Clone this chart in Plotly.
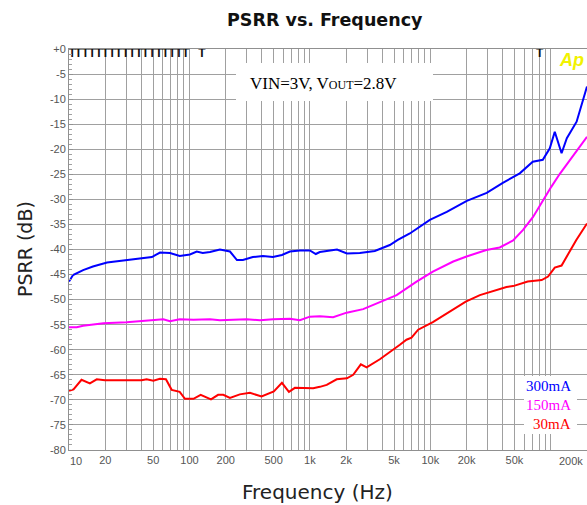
import plotly.graph_objects as go

# ---------------- data ----------------
blue_f = [10, 10.8, 13.1, 15.8, 20.7, 30.3, 41, 48.8, 57, 69, 83, 101, 115, 129, 148, 179, 217, 248, 278,
          336, 407, 493, 586, 683, 826, 1000, 1120, 1210, 1680, 2030, 2600, 3460, 4610, 5370, 6760, 9910,
          13700, 20100, 29400, 40000, 55300, 70900, 85900, 98200, 108000, 123000, 136000, 164000, 200000]
blue_db = [-46.4, -45.1, -44.1, -43.4, -42.6, -42.1, -41.8, -41.5, -40.6, -40.7, -41.3, -41.0, -40.4, -40.7,
           -40.5, -40.0, -40.4, -42.1, -42.1, -41.5, -41.3, -41.5, -41.1, -40.4, -40.2, -40.2, -40.9, -40.5,
           -40.0, -40.8, -40.7, -40.3, -39.1, -38.1, -36.8, -34.1, -32.5, -30.3, -28.7, -26.7, -24.8, -22.5,
           -22.1, -19.8, -16.5, -20.8, -17.8, -14.5, -7.5]

mag_f = [10, 11.6, 13.1, 19.3, 30.1, 50.1, 60.7, 68.9, 83, 108, 148, 179, 298, 385, 496, 683, 826, 1000,
         1210, 1560, 2020, 2770, 3580, 5250, 7690, 10500, 15500, 20000, 29200, 37700, 48700, 58900, 71300,
         86300, 101000, 119000, 200000]
mag_db = [-55.5, -55.5, -55.2, -54.7, -54.5, -54.0, -53.9, -54.3, -53.9, -54.0, -53.9, -54.1, -53.9, -54.1,
          -53.9, -53.8, -54.1, -53.4, -53.3, -53.5, -52.6, -51.9, -50.8, -49.1, -46.4, -44.4, -42.4, -41.4,
          -40.1, -39.6, -38.2, -36.1, -33.5, -30.1, -27.5, -24.9, -17.5]

red_f = [10, 10.9, 12.7, 14.9, 17.0, 19.9, 40.1, 44.1, 50.1, 56.9, 63.8, 71.2, 83, 91.8, 108, 124, 151, 173,
         191, 217, 262, 318, 397, 502, 586, 670, 751, 1065, 1211, 1380, 1670, 2030, 2290, 2650, 2960, 3810,
         5590, 6340, 6980, 7930, 10500, 14000, 19700, 25800, 29200, 35400, 42900, 48700, 64400, 84100, 95000,
         108000, 123000, 163000, 200000]
red_db = [-68.2, -67.9, -66.0, -66.7, -65.9, -66.1, -66.1, -65.9, -66.2, -65.8, -65.9, -68.0, -68.4, -69.8,
          -69.8, -69.0, -69.9, -69.0, -69.0, -69.6, -68.9, -68.6, -69.3, -68.3, -66.6, -68.4, -67.6, -67.7,
          -67.4, -67.0, -65.9, -65.7, -65.0, -62.9, -63.5, -61.9, -59.0, -58.0, -57.6, -56.0, -54.5, -52.6,
          -50.4, -49.1, -48.7, -48.1, -47.5, -47.3, -46.4, -46.1, -45.4, -43.6, -43.2, -38.1, -34.8]

marker_f = [10.6, 12.0, 13.7, 15.6, 17.7, 20.1, 22.8, 25.9, 29.5, 33.5, 38.0, 43.2, 49.1, 55.8, 63.3,
            72.0, 81.8, 92.9, 127, 81100]

series_names = ["300mA", "150mA", "30mA"]
series_colors = ["#0000ff", "#ff00ff", "#ff0000"]

x_tickvals = [20, 50, 100, 200, 500, 1000, 2000, 5000, 10000, 20000, 50000]
x_ticktext = ["20", "50", "100", "200", "500", "1k", "2k", "5k", "10k", "20k", "50k"]
x_minor = [m * 10 ** e for e in range(1, 6) for m in range(1, 10) if m * 10 ** e <= 200000]
y_tickvals = list(range(0, -81, -5))
y_ticktext = ["+0"] + [str(v) for v in y_tickvals[1:]]

# ---------------- figure ----------------
W, H = 587, 505
PX0, PX1, PY0, PY1 = 69, 587, 49, 450  # plot area in window pixels
L, T, R, B = PX0, PY0, W - PX1, H - PY1
pw, ph = PX1 - PX0, PY1 - PY0


def px(xp):
    return (xp - PX0) / pw


def py(yp):
    return (PY1 - yp) / ph


fig = go.Figure()
for f, d, n, c in zip([blue_f, mag_f, red_f], [blue_db, mag_db, red_db], series_names, series_colors):
    fig.add_trace(go.Scatter(x=f, y=d, mode="lines", name=n,
                             line=dict(color=c, width=2), showlegend=False))

fig.add_trace(go.Scatter(x=marker_f, y=[-1.0] * len(marker_f), mode="text", text=["<b>T</b>"] * len(marker_f),
                         textfont=dict(family="Liberation Sans", size=12, color="#111111"),
                         showlegend=False, cliponaxis=False, hoverinfo="skip"))

grid_c = "#a0a0a0"
tick_font = dict(family="Liberation Sans", size=11, color="#555555")
fig.update_xaxes(type="log", range=[1, 5.30103], tickvals=x_tickvals, ticktext=x_ticktext,
                 showgrid=True, gridcolor=grid_c, gridwidth=1,
                 minor=dict(tickvals=x_minor, showgrid=True, gridcolor=grid_c, gridwidth=1),
                 showline=True, linecolor="#909090", mirror=True, ticks="",
                 tickfont=tick_font, zeroline=False)
fig.update_yaxes(range=[-80, 0], tickvals=y_tickvals, ticktext=y_ticktext,
                 showgrid=True, gridcolor=grid_c, gridwidth=1, zeroline=False,
                 showline=True, linecolor="#909090", ticks="inside", ticklen=4, tickcolor="#909090",
                 minor=dict(dtick=1, ticks="inside", ticklen=3, tickcolor="#a0a0a0", showgrid=False),
                 tickfont=tick_font)

shapes = [
    dict(type="rect", xref="paper", yref="paper", x0=px(236), x1=px(433), y0=py(101), y1=py(63),
         fillcolor="white", line=dict(width=0), layer="above"),
    dict(type="rect", xref="paper", yref="paper", x0=px(524), x1=px(577), y0=py(434), y1=py(376),
         fillcolor="white", line=dict(width=0), layer="above"),
]


def note(text, x, y, font, xanchor="center", **kw):
    return dict(text=text, x=px(x), y=py(y), xref="paper", yref="paper", xanchor=xanchor,
                yanchor="middle", showarrow=False, font=font, **kw)


ann = [
    note("<b>PSRR vs. Frequency</b>", 325, 20, dict(family="DejaVu Sans", size=17.5, color="#111111")),
    note("PSRR (dB)", 25, 249, dict(family="DejaVu Sans", size=19, color="#222222"), textangle=-90),
    note("Frequency (Hz)", 317, 492, dict(family="DejaVu Sans", size=20, color="#222222")),
    note("VIN=3V, V<span style='font-size:12px'>OUT</span>=2.8V", 248, 83,
         dict(family="Liberation Serif", size=17, color="#000000"), xanchor="left"),
    note("<b><i>Ap</i></b>", 586, 60, dict(family="Liberation Sans", size=18, color="#f2f200"), xanchor="right"),
    note("10", 76, 461, tick_font),
    note("200k", 585, 461, tick_font, xanchor="right"),
]
for i, (n, c) in enumerate(zip(series_names, series_colors)):
    ann.append(note(n, 573, 386 + 19 * i, dict(family="Liberation Serif", size=15, color=c), xanchor="right"))

fig.update_layout(width=W, height=H, margin=dict(l=L, r=R, t=T, b=B, autoexpand=False),
                  paper_bgcolor="white", plot_bgcolor="white", shapes=shapes, annotations=ann)

# remove the page's default body margin so the figure fills the window exactly
fig.write_html("out.html", config={"displayModeBar": False},
               post_script="document.body.style.margin='0';document.body.style.overflow='hidden';")
